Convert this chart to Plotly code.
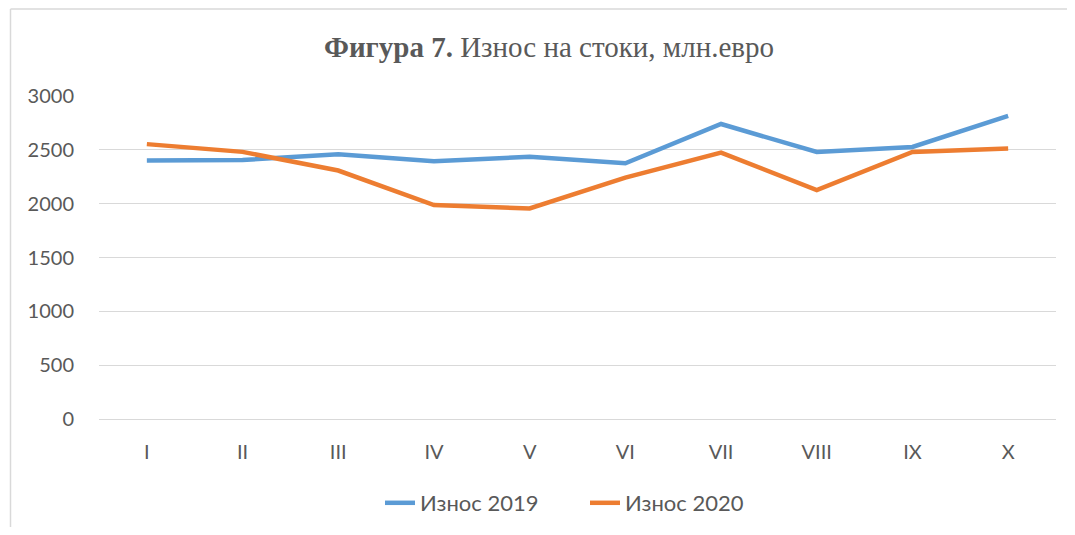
import plotly.graph_objects as go

months = ["I", "II", "III", "IV", "V", "VI", "VII", "VIII", "IX", "X"]
export_2019 = [2400, 2405, 2460, 2395, 2435, 2375, 2740, 2480, 2527, 2815]
export_2020 = [2553, 2481, 2308, 1987, 1955, 2242, 2474, 2126, 2481, 2512]
series_names = ["Износ 2019", "Износ 2020"]
y_ticks = [0, 500, 1000, 1500, 2000, 2500, 3000]

# page body has an 8px margin; work in screen pixels and shift
OFF = 8
W, H = 1075 - 2 * OFF, 535 - 2 * OFF
PX0, PX1, PY0, PY1 = 99, 1056, 96, 419  # plot area in screen px
L, R = PX0 - OFF, W - (PX1 - OFF)
T, B = PY0 - OFF, H - (PY1 - OFF)
pw, ph = PX1 - PX0, PY1 - PY0

def px_x(px):
    return (px - PX0) / pw

def px_y(py):
    return (PY1 - py) / ph

fig = go.Figure()
fig.add_trace(go.Scatter(x=months, y=export_2019, mode="lines", name=series_names[0],
                         line=dict(color="#5B9BD5", width=4.5)))
fig.add_trace(go.Scatter(x=months, y=export_2020, mode="lines", name=series_names[1],
                         line=dict(color="#ED7D31", width=4.5)))

tick_font = dict(family="Lato, Liberation Sans, sans-serif", size=20, color="#595959")

fig.update_layout(
    width=W, height=H,
    margin=dict(l=L, r=R, t=T, b=B, pad=0, autoexpand=False),
    paper_bgcolor="white", plot_bgcolor="white",
    title=dict(
        text="<b>Фигура 7.</b> Износ на стоки, млн.евро",
        x=(549 - OFF) / W, xanchor="center", xref="container",
        y=1 - (47 - OFF) / H, yanchor="middle", yref="container",
        font=dict(family="Liberation Serif, Times New Roman, serif", size=29, color="#595959"),
    ),
    xaxis=dict(
        type="category", range=[-0.5, 9.5], showgrid=False, showline=False, zeroline=False,
        ticks="outside", ticklen=15, tickcolor="rgba(0,0,0,0)", tickfont=tick_font,
        automargin=False,
    ),
    yaxis=dict(
        range=[0, 3000], tickvals=y_ticks, showgrid=True, gridcolor="#D9D9D9", gridwidth=1,
        zeroline=True, zerolinecolor="#D9D9D9", zerolinewidth=1, showline=False,
        ticks="outside", ticklen=20, tickcolor="rgba(0,0,0,0)", tickfont=tick_font,
        automargin=False,
    ),
    legend=dict(
        orientation="h", xref="container", x=(380 - OFF) / W, xanchor="left",
        yref="container", y=1 - (503 - OFF) / H, yanchor="middle",
        font=dict(family="Lato, Liberation Sans, sans-serif", size=22, color="#595959"),
        traceorder="normal", entrywidth=160, entrywidthmode="pixels",
    ),
    showlegend=True,
)

# chart frame (top and left edges visible)
fig.add_shape(type="line", xref="paper", yref="paper",
              x0=px_x(10.5), x1=px_x(1080), y0=px_y(9), y1=px_y(9),
              line=dict(color="#D9D9D9", width=1.5))
fig.add_shape(type="line", xref="paper", yref="paper",
              x0=px_x(10.5), x1=px_x(10.5), y0=px_y(9), y1=px_y(540),
              line=dict(color="#D9D9D9", width=1.5))

fig.write_html("out.html")
